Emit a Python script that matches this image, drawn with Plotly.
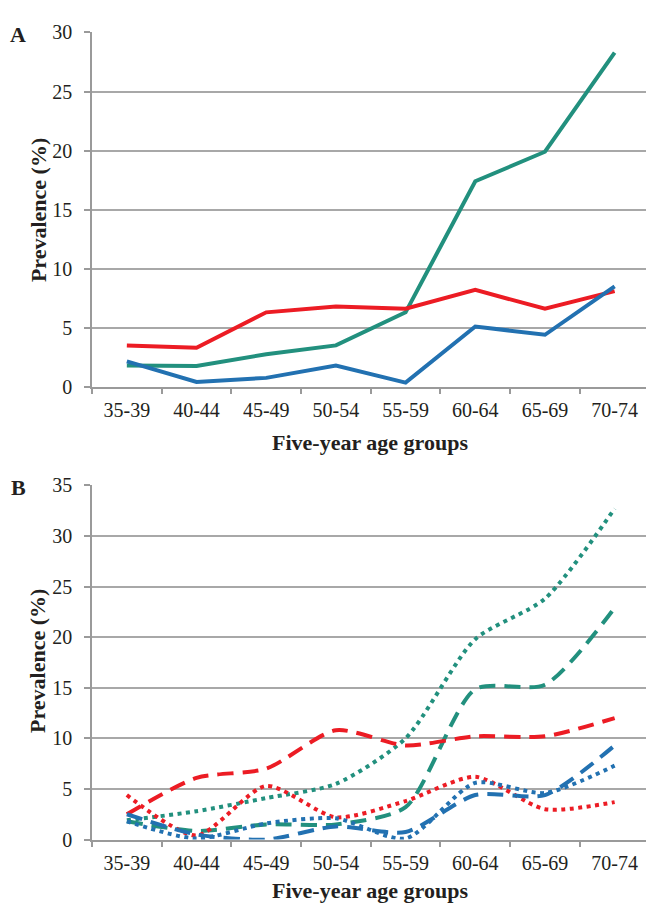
import plotly.graph_objects as go

categories = ["35-39", "40-44", "45-49", "50-54", "55-59", "60-64", "65-69", "70-74"]

# Panel A
a_teal = [1.8, 1.75, 2.75, 3.5, 6.3, 17.4, 19.9, 28.3]
a_red = [3.5, 3.3, 6.3, 6.8, 6.6, 8.2, 6.6, 8.1]
a_blue = [2.15, 0.4, 0.75, 1.8, 0.35, 5.1, 4.4, 8.5]

# Panel B
b_teal_dot = [1.9, 2.8, 4.1, 5.5, 10.0, 19.8, 23.8, 32.7]
b_teal_dash = [1.8, 0.85, 1.5, 1.5, 3.2, 14.85, 15.3, 22.9]
b_red_dash = [2.5, 6.1, 7.0, 10.8, 9.3, 10.2, 10.2, 12.0]
b_red_dot = [4.4, 0.4, 5.3, 2.2, 3.8, 6.2, 3.0, 3.7]
b_blue_dash = [2.5, 0.5, 0.0, 1.3, 0.75, 4.4, 4.4, 9.3]
b_blue_dot = [1.8, 0.1, 1.6, 2.1, 0.1, 5.6, 4.6, 7.3]

a_yticks = [0, 5, 10, 15, 20, 25, 30]
b_yticks = [0, 5, 10, 15, 20, 25, 30, 35]

TEAL = "#22907e"
RED = "#ec1c24"
BLUE = "#2271b1"
GRID = "#a8a8a8"
AXIS = "#9a9a9a"
FONT = "Liberation Serif"
TXT = "#231f20"

W, H = 646, 914

fig = go.Figure()

def add(y, color, dash, xa, ya, width, shape="linear"):
    fig.add_trace(go.Scatter(
        x=categories, y=y, mode="lines", xaxis=xa, yaxis=ya,
        line=dict(color=color, width=width, dash=dash, shape=shape, smoothing=0.7),
        showlegend=False, hoverinfo="skip"))

add(a_teal, TEAL, "solid", "x", "y", 4)
add(a_red, RED, "solid", "x", "y", 4)
add(a_blue, BLUE, "solid", "x", "y", 4)

DOT = "4px,4.5px"
DASH = "16px,9px"
add(b_teal_dot, TEAL, DOT, "x2", "y2", 4, "spline")
add(b_teal_dash, TEAL, DASH, "x2", "y2", 4, "spline")
add(b_red_dash, RED, DASH, "x2", "y2", 4, "spline")
add(b_red_dot, RED, DOT, "x2", "y2", 4, "spline")
add(b_blue_dash, BLUE, DASH, "x2", "y2", 4, "spline")
add(b_blue_dot, BLUE, DOT, "x2", "y2", 4, "spline")

def py(px):
    return 1 - px / H

x_dom = [92 / W, 1.0]

xcommon = dict(type="category", range=[-0.5, 7.45], tickson="boundaries",
               ticks="outside", ticklen=6, tickcolor=AXIS, tickwidth=1.5,
               showline=True, linecolor=AXIS, linewidth=1.5, showgrid=False,
               tickfont=dict(family=FONT, size=20, color=TXT),
               ticklabelstandoff=5, ticklabeloverflow="allow", domain=x_dom)
ycommon = dict(ticks="outside", ticklen=6, tickcolor=AXIS, tickwidth=1.5,
               showline=True, linecolor=AXIS, linewidth=1.5,
               showgrid=True, gridcolor=GRID, gridwidth=1.5, zeroline=False,
               tickfont=dict(family=FONT, size=20, color=TXT),
               ticklabelstandoff=8)

fig.update_layout(
    width=W, height=H, margin=dict(l=0, r=0, t=0, b=0),
    paper_bgcolor="white", plot_bgcolor="white",
    xaxis=dict(**xcommon, anchor="y"),
    yaxis=dict(**ycommon, range=[0, 30], tickvals=a_yticks,
               domain=[py(385), py(22)], anchor="x"),
    xaxis2=dict(**xcommon, anchor="y2"),
    yaxis2=dict(**ycommon, range=[0, 35], tickvals=b_yticks,
                domain=[py(849), py(486)], anchor="x2"),
)

tfont = dict(family=FONT, size=22, color=TXT)
ann = [
    dict(text="<b>A</b>", x=18 / W, y=py(24), xanchor="center", yanchor="middle"),
    dict(text="<b>B</b>", x=18 / W, y=py(488), xanchor="center", yanchor="middle"),
    dict(text="<b>Five-year age groups</b>", x=370 / W, y=py(442), xanchor="center", yanchor="middle"),
    dict(text="<b>Five-year age groups</b>", x=370 / W, y=py(901), xanchor="center", yanchor="middle"),
    dict(text="<b>Prevalence (%)</b>", x=38 / W, y=py(204), xanchor="center", yanchor="middle", textangle=-90),
    dict(text="<b>Prevalence (%)</b>", x=38 / W, y=py(666), xanchor="center", yanchor="middle", textangle=-90),
]
for a in ann:
    fig.add_annotation(xref="paper", yref="paper", showarrow=False, font=tfont, **a)

fig.write_html("out.html", config={"displayModeBar": False},
               post_script="document.body.style.margin='0';")
